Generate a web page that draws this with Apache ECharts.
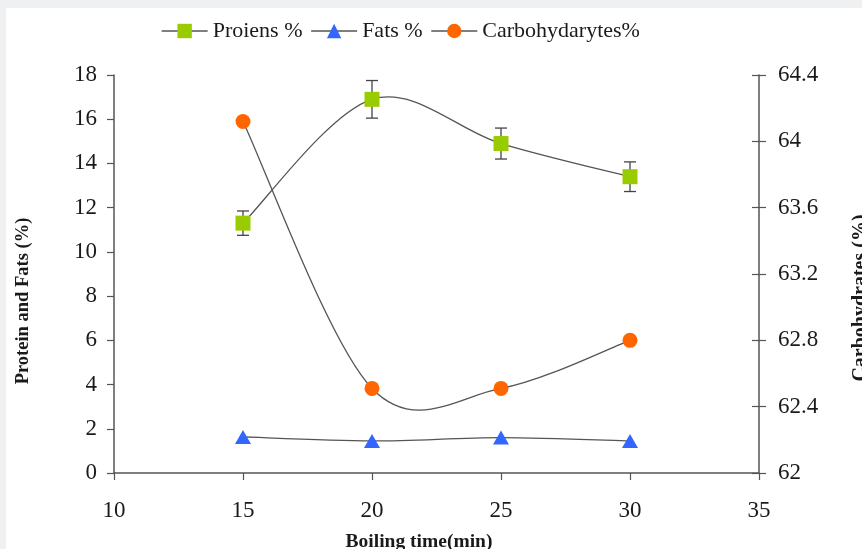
<!DOCTYPE html>
<html>
<head>
<meta charset="utf-8">
<script src="https://cdn.jsdelivr.net/npm/echarts@6/dist/echarts.min.js"></script>
<style>
html,body{margin:0;padding:0;background:#eff0f2;width:862px;height:549px;overflow:hidden;}
#c{position:absolute;left:6px;top:8px;width:856px;height:541px;background:#fff;}
</style>
</head>
<body>
<div id="c"></div>
<script>
const boilingTime = [15, 20, 25, 30];
const proteins = [11.3, 16.9, 14.9, 13.4];
const proteinErr = [0.55, 0.85, 0.7, 0.67];
const fats = [1.63, 1.45, 1.6, 1.45];
const carbs = [64.12, 62.51, 62.51, 62.80];
const seriesNames = ['Proiens %', 'Fats %', 'Carbohydarytes%'];

const font = 'Liberation Serif';
const axisColor = '#555';
const lineColor = '#555';
const textColor = '#1a1a1a';

const chart = echarts.init(document.getElementById('c'), null, {renderer: 'canvas'});

const pair = (xs, ys) => xs.map((x, i) => [x, ys[i]]);

// Excel-style smoothed connector (Catmull-Rom in pixel space) drawn from axis coordinates
function smoothLine(ys, yAxisIndex, z) {
  return {
    type: 'custom', yAxisIndex: yAxisIndex, silent: true, z: z,
    data: pair(boilingTime, ys),
    renderItem: function (params, api) {
      const i = params.dataIndex;
      const n = boilingTime.length;
      if (i >= n - 1) return null;
      const P = k => api.coord([boilingTime[Math.max(0, Math.min(n - 1, k))], ys[Math.max(0, Math.min(n - 1, k))]]);
      const p0 = P(i - 1), p1 = P(i), p2 = P(i + 1), p3 = P(i + 2);
      return {
        type: 'bezierCurve',
        shape: {
          x1: p1[0], y1: p1[1], x2: p2[0], y2: p2[1],
          cpx1: p1[0] + (p2[0] - p0[0]) / 6, cpy1: p1[1] + (p2[1] - p0[1]) / 6,
          cpx2: p2[0] - (p3[0] - p1[0]) / 6, cpy2: p2[1] - (p3[1] - p1[1]) / 6
        },
        style: {stroke: lineColor, lineWidth: 1.3, fill: null}
      };
    }
  };
}

const option = {
  animation: false,
  textStyle: {fontFamily: font},
  legend: {
    data: seriesNames,
    left: 150,
    top: 7,
    itemWidth: 46,
    itemHeight: 18,
    itemGap: 8,
    lineStyle: {color: lineColor, width: 1.3, opacity: 1},
    textStyle: {fontFamily: font, fontSize: 22, color: textColor}
  },
  grid: {left: 108, right: 103, top: 67, bottom: 76},
  xAxis: {
    type: 'value', min: 10, max: 35, interval: 5,
    splitLine: {show: false},
    axisLine: {onZero: false, lineStyle: {color: axisColor, width: 1.5}},
    axisTick: {show: true, length: 7, lineStyle: {color: axisColor, width: 1.2}},
    axisLabel: {fontFamily: font, fontSize: 23, color: textColor, margin: 26}
  },
  yAxis: [
    {
      type: 'value', min: 0, max: 18, interval: 2, position: 'left',
      splitLine: {show: false},
      axisLine: {show: true, lineStyle: {color: axisColor, width: 1.5}},
      axisTick: {show: true, length: 7, lineStyle: {color: axisColor, width: 1.2}},
      axisLabel: {fontFamily: font, fontSize: 23, color: textColor, margin: 17}
    },
    {
      type: 'value', min: 62, max: 64.4, interval: 0.4, position: 'right',
      splitLine: {show: false},
      axisLine: {show: true, lineStyle: {color: axisColor, width: 1.5}},
      axisTick: {show: true, length: 7, lineStyle: {color: axisColor, width: 1.2}},
      axisLabel: {fontFamily: font, fontSize: 23, color: textColor, margin: 19,
        formatter: v => String(+v.toFixed(1))}
    },
    {
      type: 'value', min: 62, max: 64.4, interval: 0.4, position: 'right', offset: 0,
      splitLine: {show: false},
      axisLine: {show: false},
      axisTick: {show: true, inside: true, length: 7, lineStyle: {color: axisColor, width: 1.2}},
      axisLabel: {show: false}
    }
  ],
  graphic: [
    {type: 'text', rotation: Math.PI / 2, x: 17, y: 293, silent: true,
      style: {text: 'Protein and Fats (%)', font: 'bold 18.5px "Liberation Serif"', fill: textColor,
        align: 'center', verticalAlign: 'middle'}},
    {type: 'text', rotation: Math.PI / 2, x: 855, y: 290, silent: true,
      style: {text: 'Carbohydrates (%)', font: 'bold 20px "Liberation Serif"', fill: textColor,
        align: 'center', verticalAlign: 'middle'}},
    {type: 'text', x: 413, y: 534, silent: true,
      style: {text: 'Boiling time(min)', font: 'bold 19.5px "Liberation Serif"', fill: textColor,
        align: 'center', verticalAlign: 'middle'}}
  ],
  series: [
    smoothLine(carbs, 1, 1),
    smoothLine(fats, 0, 1),
    smoothLine(proteins, 0, 1),
    {
      name: seriesNames[2], type: 'line', yAxisIndex: 1,
      data: pair(boilingTime, carbs),
      symbol: 'circle', symbolSize: 15,
      itemStyle: {color: '#ff6600'},
      lineStyle: {width: 0, opacity: 0},
      z: 3
    },
    {
      name: seriesNames[1], type: 'line', yAxisIndex: 0,
      data: pair(boilingTime, fats),
      symbol: 'triangle', symbolSize: [16, 14],
      itemStyle: {color: '#3366ff'},
      lineStyle: {width: 0, opacity: 0},
      z: 3
    },
    {
      name: 'err', type: 'custom', yAxisIndex: 0,
      data: boilingTime.map((x, i) => [x, proteins[i] - proteinErr[i], proteins[i] + proteinErr[i]]),
      renderItem: function (params, api) {
        const x = api.value(0);
        const lo = api.coord([x, api.value(1)]);
        const hi = api.coord([x, api.value(2)]);
        const w = 6;
        const st = {stroke: '#444', lineWidth: 1.3};
        return {type: 'group', children: [
          {type: 'line', shape: {x1: lo[0], y1: lo[1], x2: hi[0], y2: hi[1]}, style: st},
          {type: 'line', shape: {x1: lo[0] - w, y1: lo[1], x2: lo[0] + w, y2: lo[1]}, style: st},
          {type: 'line', shape: {x1: hi[0] - w, y1: hi[1], x2: hi[0] + w, y2: hi[1]}, style: st}
        ]};
      },
      z: 4, silent: true
    },
    {
      name: seriesNames[0], type: 'line', yAxisIndex: 0,
      data: pair(boilingTime, proteins),
      symbol: 'rect', symbolSize: 15,
      itemStyle: {color: '#99cc00'},
      lineStyle: {width: 0, opacity: 0},
      z: 5
    }
  ]
};
chart.setOption(option);
</script>
</body>
</html>
